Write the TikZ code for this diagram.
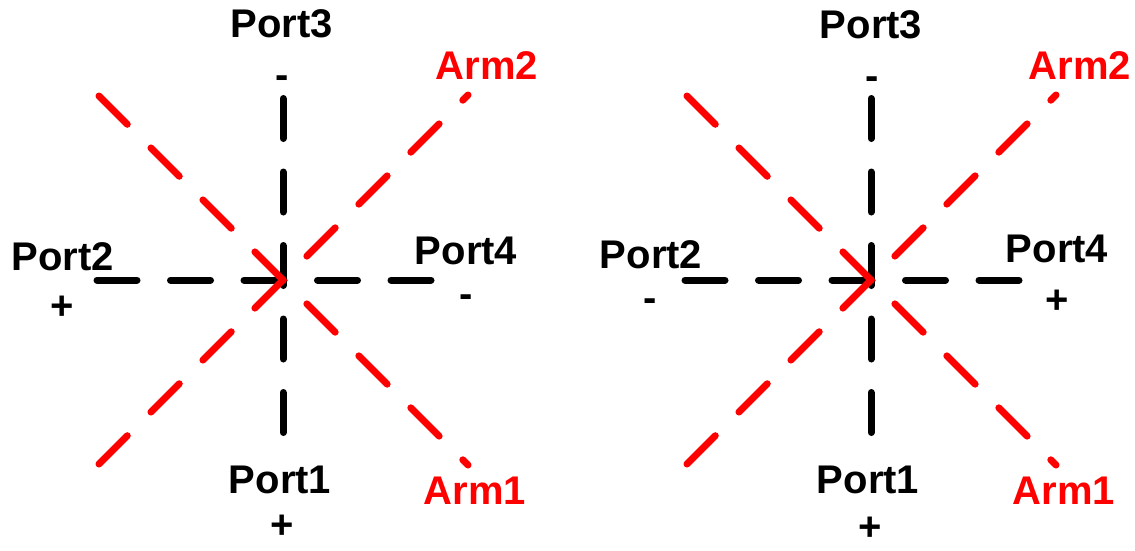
\documentclass[tikz,border=0pt]{standalone}
\usepackage{fontspec}
\setmainfont{Liberation Sans}
\begin{document}
\begin{tikzpicture}[x=1pt,y=-1pt,
  portline/.style={draw=black,line width=7pt,line cap=round,dash pattern=on 40pt off 33.5pt},
  armline/.style={draw=red,line width=7pt,line cap=round,dash pattern=on 40pt off 33.5pt},
  lbl/.style={font=\bfseries\fontsize{40}{48}\selectfont,inner sep=0pt,text=black},
  armlbl/.style={lbl,text=red}]
\useasboundingbox (0,0) rectangle (1135,550);
% ---------- left diagram ----------
\coordinate (Lt) at (283,98.5);
\coordinate (Lb) at (283,455);
\coordinate (Ll) at (97,280);
\coordinate (Lr) at (455,280);
\coordinate (Lbl) at (99,464);
\coordinate (Ltr) at (468,95);
\coordinate (Ltl) at (99,96);
\coordinate (Lbr) at (468,465);
\draw[portline] (Lt) -- (Lb);
\draw[portline] (Ll) -- (Lr);
\draw[armline] (Lbl) -- (Ltr);
\draw[armline] (Ltl) -- (Lbr);
\node[lbl] (LP3) at (282,24) {Port3};
\node[lbl] (LP3s) at (282,82) {-};
\node[lbl] (LP2) at (62.5,257) {Port2};
\node[lbl] (LP2s) at (62,308) {+};
\node[lbl] (LP4) at (466,251) {Port4};
\node[lbl] (LP4s) at (466,301) {-};
\node[lbl] (LP1) at (280,480) {Port1};
\node[lbl] (LP1s) at (282,527) {+};
\node[armlbl] (LA2) at (487,66) {Arm2};
\node[armlbl] (LA1) at (475,491) {Arm1};
% ---------- right diagram ----------
\coordinate (Rt) at (871,98.5);
\coordinate (Rb) at (871,455);
\coordinate (Rl) at (685,280);
\coordinate (Rr) at (1043,280);
\coordinate (Rbl) at (687,464);
\coordinate (Rtr) at (1056,95);
\coordinate (Rtl) at (687,96);
\coordinate (Rbr) at (1056,465);
\draw[portline] (Rt) -- (Rb);
\draw[portline] (Rl) -- (Rr);
\draw[armline] (Rbl) -- (Rtr);
\draw[armline] (Rtl) -- (Rbr);
\node[lbl] (RP3) at (871,25) {Port3};
\node[lbl] (RP3s) at (872,83) {-};
\node[lbl] (RP2) at (651,255) {Port2};
\node[lbl] (RP2s) at (650,305) {-};
\node[lbl] (RP4) at (1057,249) {Port4};
\node[lbl] (RP4s) at (1057,302) {+};
\node[lbl] (RP1) at (868,480) {Port1};
\node[lbl] (RP1s) at (870,529) {+};
\node[armlbl] (RA2) at (1080,66) {Arm2};
\node[armlbl] (RA1) at (1064,491) {Arm1};
\end{tikzpicture}
\end{document}
